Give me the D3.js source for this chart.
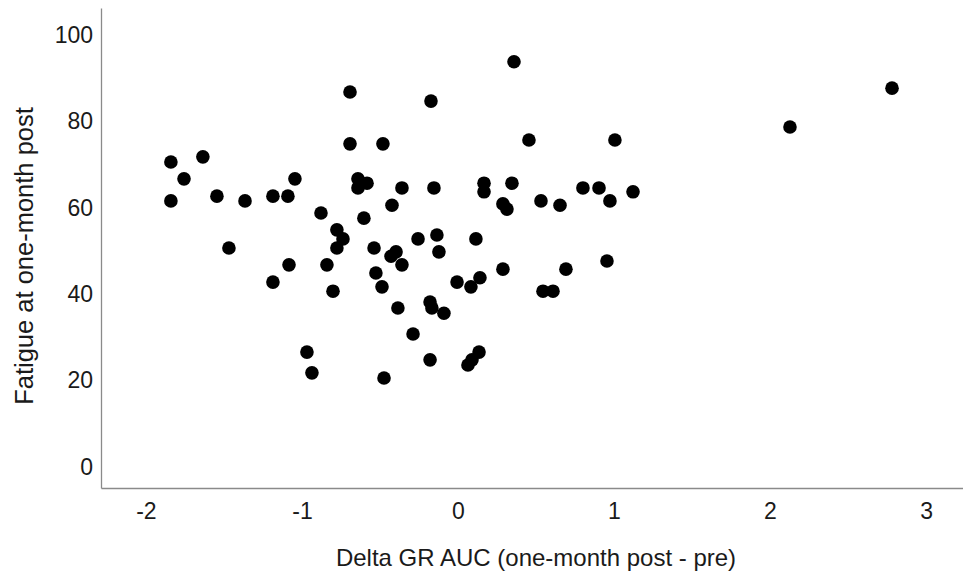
<!DOCTYPE html>
<html>
<head>
<meta charset="utf-8">
<script src="https://cdn.jsdelivr.net/npm/d3@7"></script>
<style>
  html, body { margin: 0; padding: 0; background: #fff; }
  svg { display: block; }
  text { font-family: "Liberation Sans", Arial, sans-serif; fill: #1a1a1a; }
</style>
</head>
<body>
<svg id="chart" width="963" height="574"></svg>
<script>
// Delta GR AUC (one-month post - pre)
const deltaGR = [
  -1.84, -1.84, -1.756, -1.635, -1.545, -1.468, -1.365, -1.186, -1.09, -1.045,
  -1.186, -1.083, -0.968, -0.936, -0.878, -0.84, -0.801, -0.776, -0.737, -0.776,
  -0.692, -0.692, -0.641, -0.641, -0.583, -0.603, -0.481, -0.538, -0.526, -0.487,
  -0.474, -0.429, -0.423, -0.397, -0.385, -0.359, -0.359, -0.288, -0.256, -0.173,
  -0.179, -0.167, -0.179, -0.154, -0.135, -0.122, -0.09, -0.006, 0.064, 0.09,
  0.083, 0.115, 0.141, 0.135, 0.167, 0.167, 0.288, 0.288, 0.314, 0.346,
  0.359, 0.455, 0.532, 0.545, 0.609, 0.654, 0.692, 0.801, 0.904, 0.955,
  0.974, 1.006, 1.122, 2.128, 2.782
];
// Fatigue at one-month post
const fatigue = [
  70.6, 61.6, 66.7, 71.8, 62.7, 50.7, 61.6, 62.7, 62.7, 66.7,
  42.8, 46.8, 26.6, 21.8, 58.8, 46.8, 40.7, 54.9, 52.8, 50.7,
  86.8, 74.8, 66.7, 64.6, 65.7, 57.6, 74.8, 50.7, 44.9, 41.7,
  20.6, 48.8, 60.6, 49.8, 36.8, 46.8, 64.6, 30.8, 52.8, 84.7,
  38.2, 36.8, 24.8, 64.6, 53.7, 49.8, 35.6, 42.8, 23.6, 24.8,
  41.7, 52.8, 43.8, 26.6, 65.7, 63.7, 45.8, 60.9, 59.7, 65.7,
  93.8, 75.7, 61.6, 40.7, 40.7, 60.6, 45.8, 64.6, 64.6, 47.7,
  61.6, 75.7, 63.7, 78.7, 87.7
];
const xTicks = [-2, -1, 0, 1, 2, 3];
const yTicks = [0, 20, 40, 60, 80, 100];
const xTitle = "Delta GR AUC (one-month post - pre)";
const yTitle = "Fatigue at one-month post";

(function () {
  const points = deltaGR.map((d, i) => ({ x: d, y: fatigue[i] }));

  const svg = d3.select("#chart");
  const mLeft = 101, mRight = 963, mTop = 8, mBottom = 488;

  const x = d3.scaleLinear().domain([-2.288, 3.237]).range([mLeft, mRight]);
  const y = d3.scaleLinear().domain([-4.86, 106.25]).range([mBottom, mTop]);

  const fmt = d => String(d); // plain hyphen-minus, as in the reference

  const xAxis = svg.append("g")
    .attr("transform", `translate(0,${mBottom})`)
    .call(d3.axisBottom(x).tickValues(xTicks).tickSize(0).tickPadding(15).tickFormat(fmt));
  const yAxis = svg.append("g")
    .attr("transform", `translate(${mLeft},0)`)
    .call(d3.axisLeft(y).tickValues(yTicks).tickSize(0).tickPadding(8).tickFormat(fmt));

  [xAxis, yAxis].forEach(g => {
    g.select(".domain").attr("stroke", "#8a8a8a").attr("stroke-width", 1.3);
    g.selectAll("text").attr("font-size", 23).attr("font-family", "Liberation Sans, Arial, sans-serif").attr("fill", "#1a1a1a");
  });

  svg.append("g").selectAll("circle")
    .data(points)
    .join("circle")
    .attr("cx", d => x(d.x))
    .attr("cy", d => y(d.y))
    .attr("r", 6.8)
    .attr("fill", "#000");

  svg.append("text")
    .attr("x", 536).attr("y", 566)
    .attr("text-anchor", "middle")
    .attr("font-size", 24)
    .text(xTitle);

  svg.append("text")
    .attr("transform", "translate(33,256) rotate(-90)")
    .attr("text-anchor", "middle")
    .attr("font-size", 25.5)
    .text(yTitle);
})();
</script>
</body>
</html>
